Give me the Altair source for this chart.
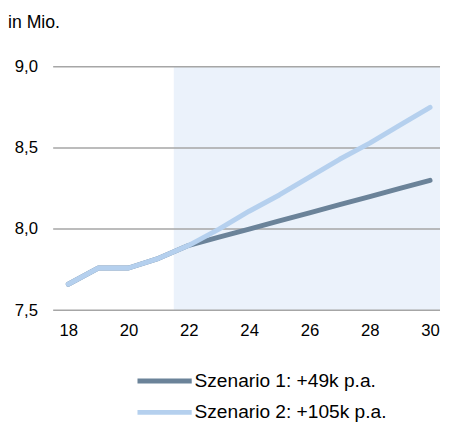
import altair as alt
import pandas as pd

years = [18, 19, 20, 21, 22, 23, 24, 25, 26, 27, 28, 29, 30]
s1 = [7.66, 7.76, 7.76, 7.82, 7.90, 7.95, 8.00, 8.05, 8.10, 8.15, 8.20, 8.25, 8.30]
s2 = [7.66, 7.76, 7.76, 7.82, 7.90, 8.00, 8.11, 8.21, 8.32, 8.43, 8.53, 8.64, 8.75]
series = ["Szenario 1: +49k p.a.", "Szenario 2: +105k p.a."]
colors = ["#6B8399", "#B5D0EE"]
forecast_start = 21.5
forecast_end = 30.33
y_ticks = [7.5, 8.0, 8.5, 9.0]
x_ticks = [18, 20, 22, 24, 26, 28, 30]

rows = []
for name, vals in zip(series, [s1, s2]):
    for yr, v in zip(years, vals):
        rows.append({"year": yr, "value": v, "series": name, "order": series.index(name)})
df = pd.DataFrame(rows)

FONT = "Liberation Sans"
xscale = alt.Scale(domain=[17.5, forecast_end], nice=False, zero=False)
yscale = alt.Scale(domain=[7.5, 9.0], nice=False, zero=False)

shade = alt.Chart(pd.DataFrame({"x": [forecast_start], "x2": [forecast_end], "y": [7.5], "y2": [9.0]})).mark_rect(
    color="#EBF2FB"
).encode(
    x=alt.X("x:Q", scale=xscale, title=None,
            axis=alt.Axis(values=x_ticks, labelPadding=13, labelFontSize=17)),
    x2="x2:Q",
    y=alt.Y("y:Q", scale=yscale, title=None,
            axis=alt.Axis(values=y_ticks, labelPadding=16, labelFontSize=17,
                          labelExpr="replace(format(datum.value, '.1f'), '.', ',')")),
    y2="y2:Q",
)

grid = alt.Chart(pd.DataFrame({"v": y_ticks})).mark_rule(color="#A6A6A6", strokeWidth=1.5).encode(
    y=alt.Y("v:Q", scale=yscale, title=None)
)

lines = alt.Chart(df).mark_line(strokeWidth=5, strokeCap="round", strokeJoin="round").encode(
    x=alt.X("year:Q", scale=xscale, title=None),
    y=alt.Y("value:Q", scale=yscale, title=None),
    color=alt.Color("series:N", scale=alt.Scale(domain=series, range=colors),
                    legend=alt.Legend(title=None, orient="none", legendX=83, legendY=310,
                                      direction="vertical", symbolType="stroke", symbolSize=3050,
                                      symbolStrokeWidth=5, clipHeight=20, rowPadding=12,
                                      labelFontSize=19.5, labelFont=FONT, labelColor="#000000",
                                      labelOffset=0, labelLimit=400)),
    order=alt.Order("order:Q"),
    detail="series:N",
)

chart = alt.layer(shade, grid, lines).properties(
    width=394, height=248,
    padding={"left": 46, "top": 56, "right": 1, "bottom": 110},
    autosize=alt.AutoSizeParams(type="none"),
    title=alt.TitleParams("in Mio.", anchor="start", frame="group", dx=-46, offset=26,
                          fontSize=18, font=FONT, fontWeight="normal", color="#000000"),
).configure_view(stroke=None).configure_axis(
    grid=False, domain=False, ticks=False, labelFont=FONT, labelColor="#000000", labelFontSize=17
)

chart.save("out.html", embed_options={"renderer": "svg", "actions": False})
